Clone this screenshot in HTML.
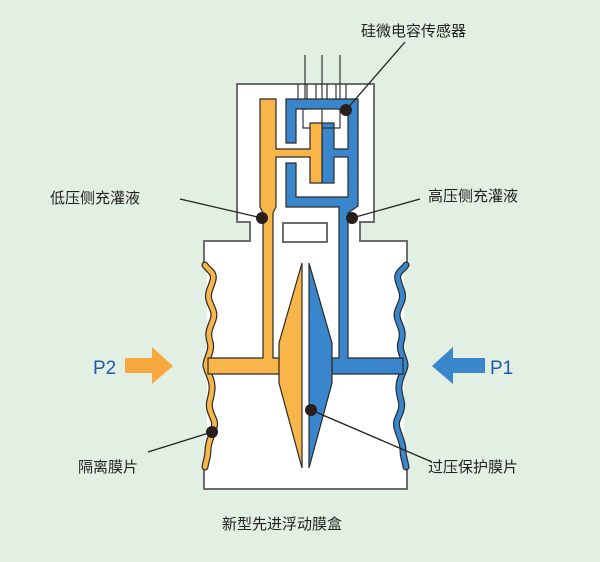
<!DOCTYPE html>
<html><head><meta charset="utf-8"><style>
html,body{margin:0;padding:0;background:#e2efe3;}
svg{display:block}
text{font-family:"Liberation Sans","Noto Sans CJK SC",sans-serif;}
</style></head><body>
<svg width="600" height="562" viewBox="0 0 600 562" xmlns="http://www.w3.org/2000/svg">
<rect width="600" height="562" fill="#e2efe3"/>
<!-- housing -->
<path d="M237,84 H374 V222 H360 V241 H407 V489 H204 V241 H250 V222 H237 Z" fill="#fff" stroke="#6d6d6d" stroke-width="2"/>
<rect x="283" y="223" width="44" height="19" fill="#fff" stroke="#6d6d6d" stroke-width="2"/>
<rect x="198" y="266" width="9" height="198" fill="#e2efe3"/>
<rect x="404" y="266" width="9" height="198" fill="#e2efe3"/>
<!-- wires -->
<g stroke="#333" stroke-width="1.2" fill="none">
<line x1="305" y1="55" x2="305" y2="110"/>
<line x1="322" y1="55" x2="322" y2="123"/>
<line x1="340" y1="55" x2="340" y2="110"/>
<line x1="298" y1="84" x2="298" y2="99"/><line x1="307" y1="84" x2="307" y2="99"/><line x1="316" y1="84" x2="316" y2="99"/><line x1="327" y1="84" x2="327" y2="99"/><line x1="336" y1="84" x2="336" y2="99"/><line x1="346" y1="84" x2="346" y2="99"/>
</g>
<!-- membranes -->
<g fill="none" stroke-linecap="round">
<path id="ml" d="M205,265 C208,270 215,272 213,280 S207,293 209,300 S216,312 213,320 S207,333 210,342 S205,360 206,366 S213,380 212,390 S208,402 210,410 S216,420 214,428 S208,442 208,450 S206,460 205,467" stroke="#2a2a2a" stroke-width="7"/>
<path d="M205,265 C208,270 215,272 213,280 S207,293 209,300 S216,312 213,320 S207,333 210,342 S205,360 206,366 S213,380 212,390 S208,402 210,410 S216,420 214,428 S208,442 208,450 S206,460 205,467" stroke="#f7b54a" stroke-width="4.6"/>
<g transform="translate(611,0) scale(-1,1)">
<path d="M205,265 C208,270 215,272 213,280 S207,293 209,300 S216,312 213,320 S207,333 210,342 S205,360 206,366 S213,380 212,390 S208,402 210,410 S216,420 214,428 S208,442 208,450 S206,460 205,467" stroke="#2a2a2a" stroke-width="7"/>
<path d="M205,265 C208,270 215,272 213,280 S207,293 209,300 S216,312 213,320 S207,333 210,342 S205,360 206,366 S213,380 212,390 S208,402 210,410 S216,420 214,428 S208,442 208,450 S206,460 205,467" stroke="#3a86cc" stroke-width="4.6"/>
</g>
</g>
<g stroke="#2a2a2a" stroke-width="1.2" stroke-linejoin="miter">
<!-- blue upper -->
<path d="M286,99 H358 V206 L348,213 V358 H403 V374 H332 V358 H339 V213 L339,207 H286 V163 H296 V197 H348 V157 H334 V183 H322 V123 H334 V149 H348 V109 H296 V143 H286 Z" fill="#3a86cc"/>
<path d="M303,109 V128 H340 V109" fill="none" stroke="#333"/>
<!-- orange upper -->
<path d="M260,99 H276 V149 H310 V123 H322 V183 H310 V157 H276 V207 L273,213 V358 H280 V374 H208 V358 H263 V213 L260,207 Z" fill="#f7b54a"/>
<!-- triangles -->
<path d="M302,263 V468 L279,383 V343 Z" fill="#f7b54a"/>
<path d="M309,263 V468 L332,383 V343 Z" fill="#3a86cc"/>
</g>
<!-- arrows -->
<path d="M125,358 H152 V347 L173,366 L152,384 V373 H125 Z" fill="#f7a93f"/>
<path d="M485,358 H453 V347 L432,366 L453,384 V373 H485 Z" fill="#3a86cc"/>
<text x="93" y="374" font-size="19" fill="#1e5aa8">P2</text>
<text x="490" y="374" font-size="19" fill="#1e5aa8">P1</text>
<!-- leaders -->
<g stroke="#222" stroke-width="1.3">
<line x1="346" y1="110" x2="405" y2="42"/>
<line x1="262" y1="218" x2="180" y2="199"/>
<line x1="352" y1="218" x2="420" y2="199"/>
<line x1="212" y1="432" x2="148" y2="452"/>
<line x1="311" y1="410" x2="432" y2="462"/>
</g>
<g fill="#2a1f1f">
<circle cx="346" cy="110" r="6"/><circle cx="262" cy="218" r="6"/><circle cx="352" cy="218" r="6"/>
<circle cx="212" cy="432" r="6"/><circle cx="311" cy="410" r="6"/>
</g>
<g font-size="15" fill="#222">
<text x="361" y="36">硅微电容传感器</text>
<text x="50" y="203">低压侧充灌液</text>
<text x="428" y="201">高压侧充灌液</text>
<text x="78" y="472">隔离膜片</text>
<text x="428" y="472">过压保护膜片</text>
<text x="222" y="529">新型先进浮动膜盒</text>
</g>
</svg>
</body></html>
